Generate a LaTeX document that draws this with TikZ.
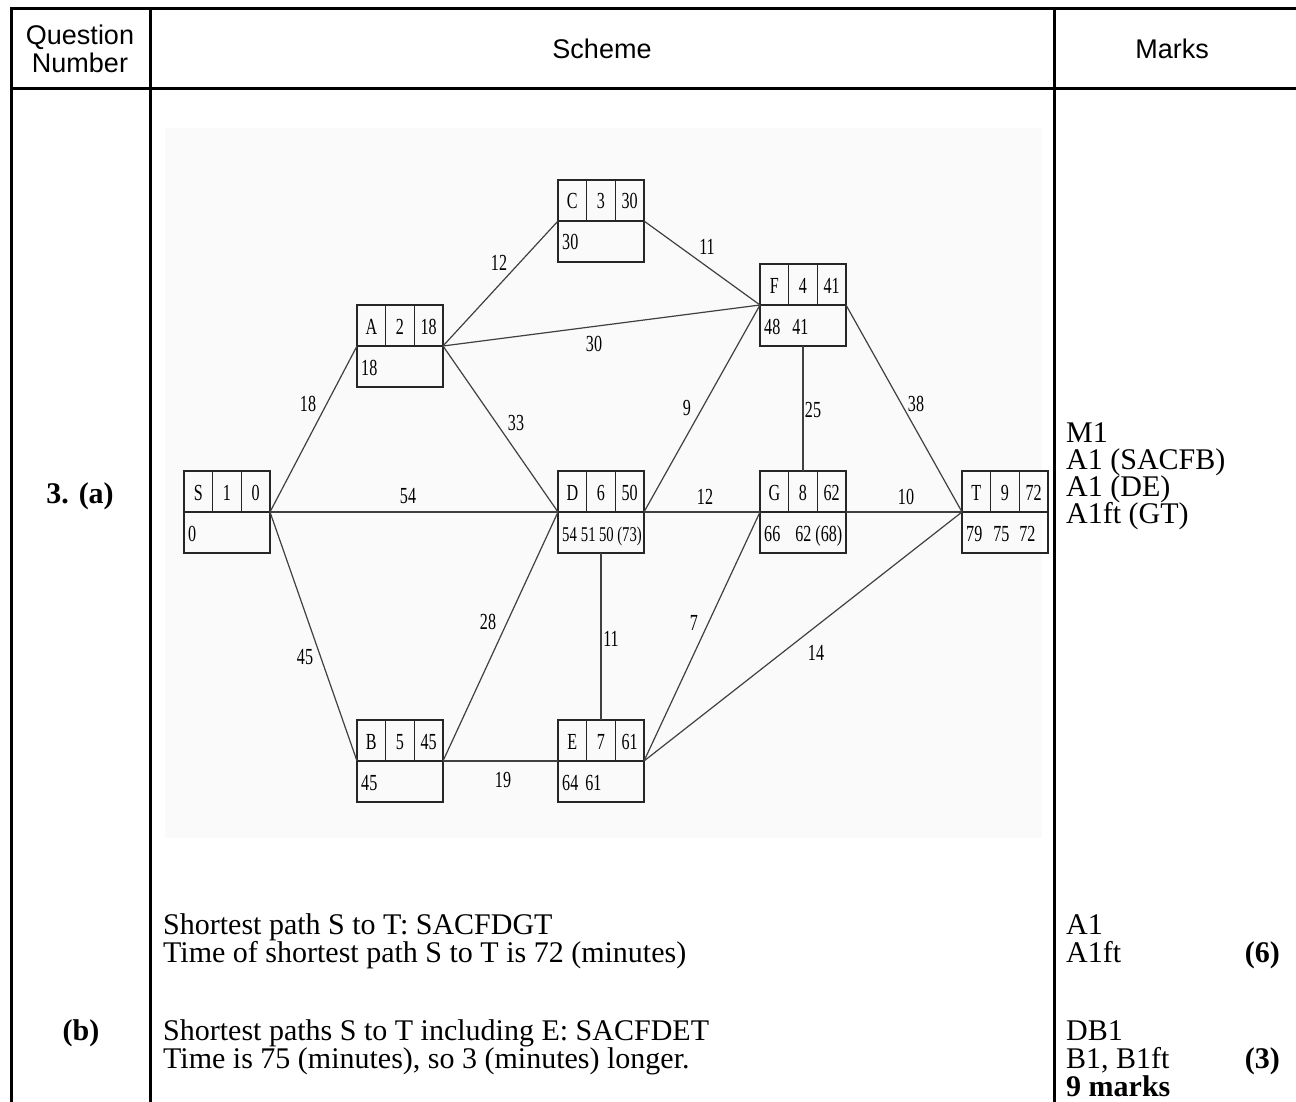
\documentclass[tikz,border=0pt]{standalone}
\usepackage{fontspec}
\setmainfont{Liberation Serif}
\setsansfont{Liberation Sans}
\newfontfamily\dfont[FakeStretch=0.7]{Liberation Serif}
\usetikzlibrary{calc}
\tikzset{
  tline/.style={line width=3pt, line cap=rect},
  hd/.style={font=\sffamily\fontsize{27}{27}\selectfont, inner sep=0pt, anchor=base},
  bodytext/.style={font=\fontsize{30}{30}\selectfont, inner sep=0pt, anchor=base west},
  boldtext/.style={font=\bfseries\fontsize{30}{30}\selectfont, inner sep=0pt},
  netbox/.style={draw=black!85, line width=1.3pt, minimum width=86pt, minimum height=82pt, inner sep=0pt, outer sep=0pt},
  boxline/.style={draw=black!85, line width=1.3pt},
  celltext/.style={font=\dfont\fontsize{23}{23}\selectfont, inner sep=0pt, anchor=base},
  edge/.style={draw=black!75, line width=1.2pt},
  elabel/.style={font=\dfont\fontsize{23}{23}\selectfont, inner sep=0pt}
}
\newcommand{\nbox}[7]{%
  \node[netbox] (#1) at (#2,#3) {};
  \draw[boxline] (#1.west) -- (#1.east);
  \draw[boxline] ($(#1.north)+(-14.33,0)$) -- ($(#1.center)+(-14.33,0)$);
  \draw[boxline] ($(#1.north)+(14.33,0)$) -- ($(#1.center)+(14.33,0)$);
  \node[celltext] (#1l) at ($(#1.center)+(-28.67,-12)$) {#4};
  \node[celltext] (#1n) at ($(#1.center)+(0,-12)$) {#5};
  \node[celltext] (#1v) at ($(#1.center)+(28.67,-12)$) {#6};
  \node[celltext, anchor=base west] (#1b) at ($(#1.west)+(4,29)$) {#7};
}
\begin{document}
\begin{tikzpicture}[x=1pt, y=-1pt]
\useasboundingbox (0,0) rectangle (1296,1102);
% faint background of the embedded diagram
\fill[black!2] (165,128) rectangle (1042,838);
% table
\draw[tline] (11,1102) -- (11,9) -- (1296,9);
\draw[tline] (11,89) -- (1296,89);
\draw[tline] (150,9) -- (150,1102);
\draw[tline] (1054,9) -- (1054,1102);
% header
\node[hd] (hq) at (80,45) {Question};
\node[hd] (hn) at (80,73) {Number};
\node[hd] (hs) at (602,59) {Scheme};
\node[hd] (hm) at (1172,59) {Marks};
% question numbers
\node[boldtext, anchor=base] (qa) at (80,503) {3. (a)};
\node[boldtext, anchor=base] (qb) at (81,1040) {(b)};
% network boxes
\nbox{S}{227}{512}{S}{1}{0}{0}
\nbox{A}{400}{346}{A}{2}{18}{18}
\nbox{C}{601}{221}{C}{3}{30}{30}
\nbox{F}{803}{305}{F}{4}{41}{48\hspace{12pt}41}
\nbox{D}{601}{512}{D}{6}{50}{\fontsize{21}{21}\selectfont 54\hspace{4pt}51\hspace{3.5pt}50\hspace{3.5pt}(73)}
\nbox{G}{803}{512}{G}{8}{62}{66\hspace{15pt}62\hspace{4pt}(68)}
\nbox{T}{1005}{512}{T}{9}{72}{79\hspace{11pt}75\hspace{10pt}72}
\nbox{B}{400}{761}{B}{5}{45}{45}
\nbox{E}{601}{761}{E}{7}{61}{64\hspace{7pt}61}
% edges
\draw[edge] (S.east) -- (A.west);
\draw[edge] (S.east) -- (D.west);
\draw[edge] (S.east) -- (B.west);
\draw[edge] (A.east) -- (C.west);
\draw[edge] (A.east) -- (F.west);
\draw[edge] (A.east) -- (D.west);
\draw[edge] (C.east) -- (F.west);
\draw[edge] (D.east) -- (F.west);
\draw[edge] (D.east) -- (G.west);
\draw[edge] (F.east) -- (T.west);
\draw[edge] (F.south) -- (G.north);
\draw[edge] (G.east) -- (T.west);
\draw[edge] (D.south) -- (E.north);
\draw[edge] (B.east) -- (D.west);
\draw[edge] (B.east) -- (E.west);
\draw[edge] (E.east) -- (G.west);
\draw[edge] (E.east) -- (T.west);
% edge labels
\node[elabel] (l18) at (308,404) {18};
\node[elabel] (l54) at (408,496) {54};
\node[elabel] (l12a) at (499,263) {12};
\node[elabel] (l30) at (594,344) {30};
\node[elabel] (l11a) at (707,247) {11};
\node[elabel] (l9) at (687,408) {9};
\node[elabel] (l25) at (813,410) {25};
\node[elabel] (l33) at (516,423) {33};
\node[elabel] (l38) at (916,404) {38};
\node[elabel] (l12b) at (705,497) {12};
\node[elabel] (l10) at (906,497) {10};
\node[elabel] (l28) at (488,622) {28};
\node[elabel] (l45) at (305,657) {45};
\node[elabel] (l11b) at (611,639) {11};
\node[elabel] (l7) at (694,623) {7};
\node[elabel] (l14) at (816,653) {14};
\node[elabel] (l19) at (503,780) {19};
% marks (a)
\node[bodytext] (m1) at (1066,442) {M1};
\node[bodytext] (m2) at (1066,469) {A1 (SACFB)};
\node[bodytext] (m3) at (1066,496) {A1 (DE)};
\node[bodytext] (m4) at (1066,523) {A1ft (GT)};
% scheme text
\node[bodytext] (s1) at (163,934) {Shortest path S to T: SACFDGT};
\node[bodytext] (s2) at (163,962) {Time of shortest path S to T is 72 (minutes)};
\node[bodytext] (s3) at (163,1040) {Shortest paths S to T including E: SACFDET};
\node[bodytext] (s4) at (163,1068) {Time is 75 (minutes), so 3 (minutes) longer.};
% marks
\node[bodytext] (k1) at (1066,934) {A1};
\node[bodytext] (k2) at (1066,962) {A1ft};
\node[boldtext, anchor=base east] (k2b) at (1280,962) {(6)};
\node[bodytext] (k3) at (1066,1040) {DB1};
\node[bodytext] (k4) at (1066,1068) {B1, B1ft};
\node[boldtext, anchor=base east] (k4b) at (1280,1068) {(3)};
\node[boldtext, anchor=base west] (k5) at (1066,1096) {9 marks};
\end{tikzpicture}
\end{document}
